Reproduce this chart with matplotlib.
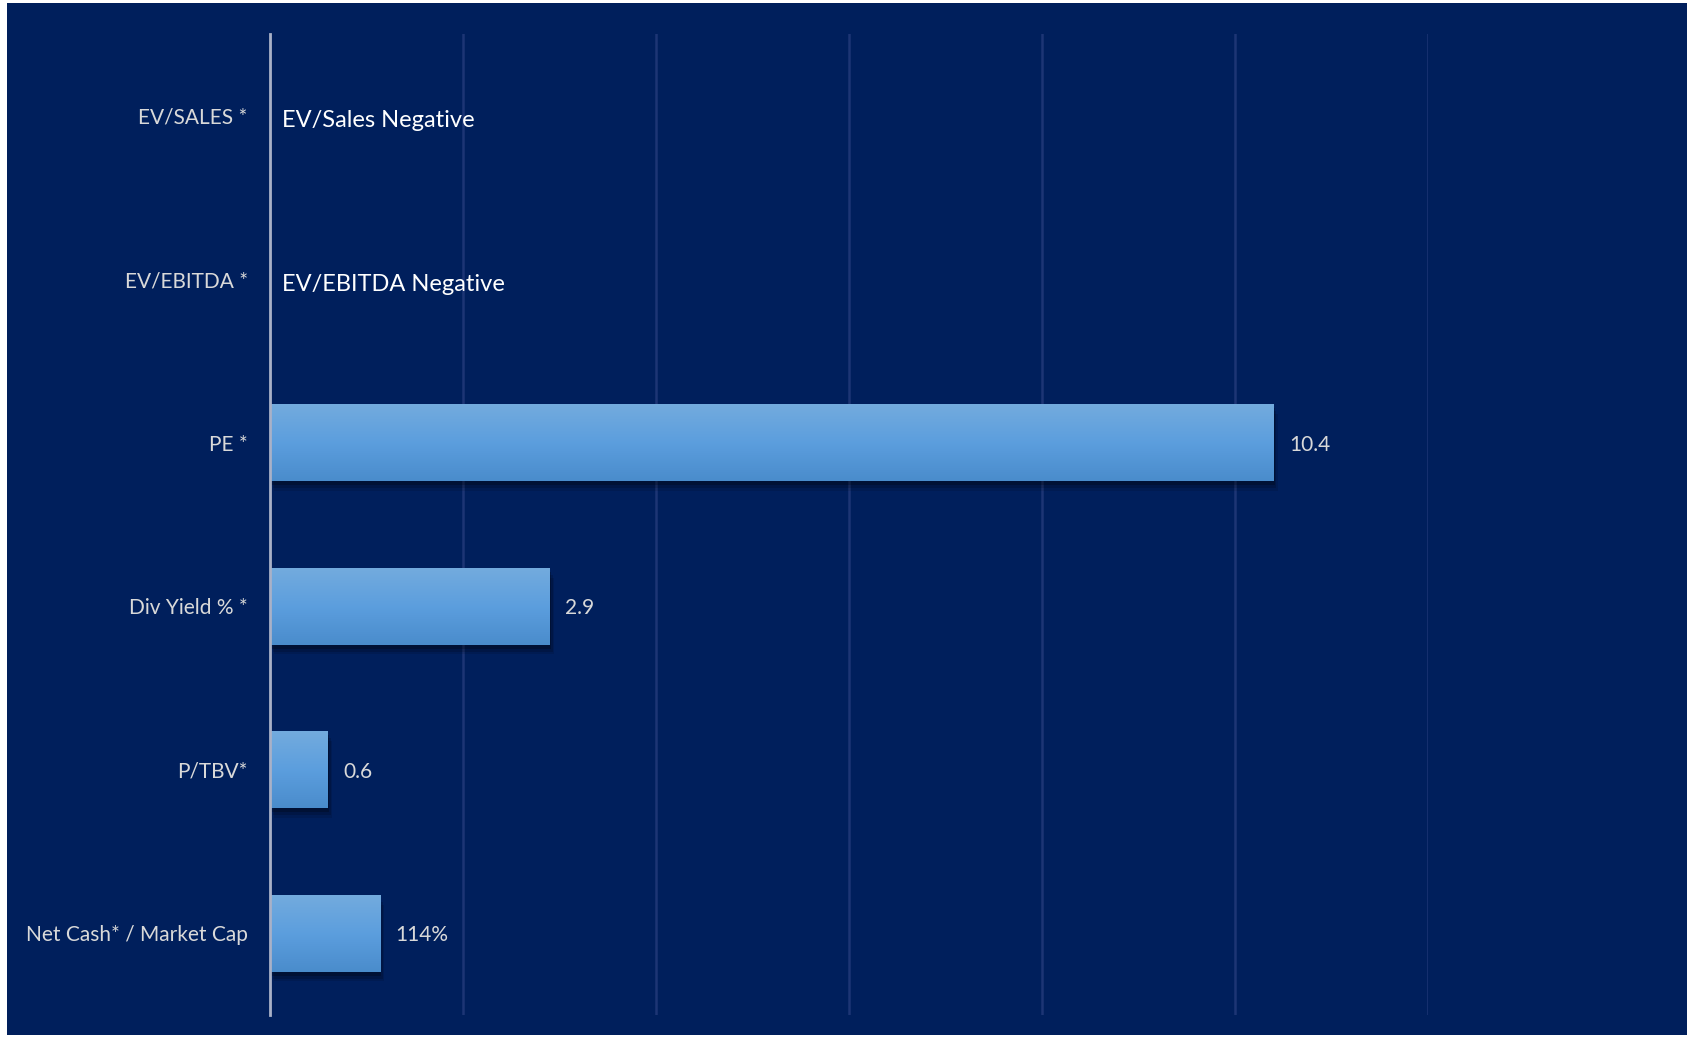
import numpy as np
import matplotlib as mpl
mpl.use('Agg')
from matplotlib import pyplot as plt
from matplotlib.patches import Rectangle
import matplotlib.patheffects as pe

# valuation metrics (top to bottom)
categories = ['EV/SALES *', 'EV/EBITDA *', 'PE *', 'Div Yield % *', 'P/TBV*', 'Net Cash* / Market Cap']
values = [0, 0, 10.4, 2.9, 0.6, 1.14]
value_labels = ['', '', '10.4', '2.9', '0.6', '114%']
notes = ['EV/Sales Negative', 'EV/EBITDA Negative', '', '', '', '']

NAVY = '#001F5C'
GRID = '#1D3574'
AXIS = '#A9B1C7'
LABEL = '#D9D9D9'
FONT = 'Lato'

W, H = 1687, 1037
fig = plt.figure(figsize=(W / 100, H / 100), dpi=100, facecolor='white')
# navy panel, leaves a thin white margin on the left/top
fig.patches.append(Rectangle((7 / W, 2 / H), 1, 1 - 5 / H, transform=fig.transFigure,
                             facecolor=NAVY, edgecolor='none', zorder=-10))

ax = fig.add_axes([270 / W, 22 / H, (1428 - 270) / W, 981 / H])
ax.set_facecolor('none')

y = np.arange(len(categories))
bars = ax.barh(y, values, height=0.47, color='#5B9BD5', zorder=3)

# vertical gradient light -> darker blue
grad = np.array([[0.45, 0.67, 0.87], [0.36, 0.62, 0.87], [0.29, 0.55, 0.80]])
rows = np.linspace(0, 1, 64)
img = np.stack([np.interp(rows, [0, 0.5, 1], grad[:, c]) for c in range(3)], axis=1)[:, None, :]

for bar, v in zip(bars, values):
    if v <= 0:
        bar.set_visible(False)
        continue
    bar.set_path_effects([
        pe.SimplePatchShadow(offset=(3, -7), shadow_rgbFace='black', alpha=0.10),
        pe.SimplePatchShadow(offset=(2, -5), shadow_rgbFace='black', alpha=0.15),
        pe.SimplePatchShadow(offset=(1, -3), shadow_rgbFace='black', alpha=0.22),
        pe.Normal()])
    x0, y0, w, h = bar.get_x(), bar.get_y(), bar.get_width(), bar.get_height()
    im = ax.imshow(img, extent=(x0, x0 + w, y0 + h, y0), aspect='auto',
                   interpolation='bilinear', zorder=4)
    im.set_clip_path(bar)

for yi, v, lab in zip(y, values, value_labels):
    if lab:
        ax.annotate(lab, (v, yi), xytext=(11, -1.5), textcoords='offset points',
                    va='center', ha='left', color=LABEL, fontsize=15, family=FONT)

for yi, note in zip(y, notes):
    if note:
        ax.annotate(note, (0, yi), xytext=(9, -3.5), textcoords='offset points',
                    va='center', ha='left', color='white', fontsize=17, family=FONT)

ax.set_xlim(0, 12)
ax.set_ylim(len(categories) - 0.5, -0.5)
ax.set_xticks(np.arange(0, 13, 2))
ax.set_xticklabels([])
ax.set_yticks(y)
ax.set_yticklabels(categories, color=LABEL, fontsize=15, family=FONT)
ax.tick_params(length=0, pad=16)
ax.grid(axis='x', color=GRID, linewidth=1.8, zorder=1)
ax.set_axisbelow(True)

for s in ['top', 'right', 'bottom']:
    ax.spines[s].set_visible(False)
ax.spines['left'].set_color(AXIS)
ax.spines['left'].set_linewidth(2)
ax.spines['left'].set_zorder(6)

fig.savefig('out.png', dpi=100, facecolor=fig.get_facecolor())
